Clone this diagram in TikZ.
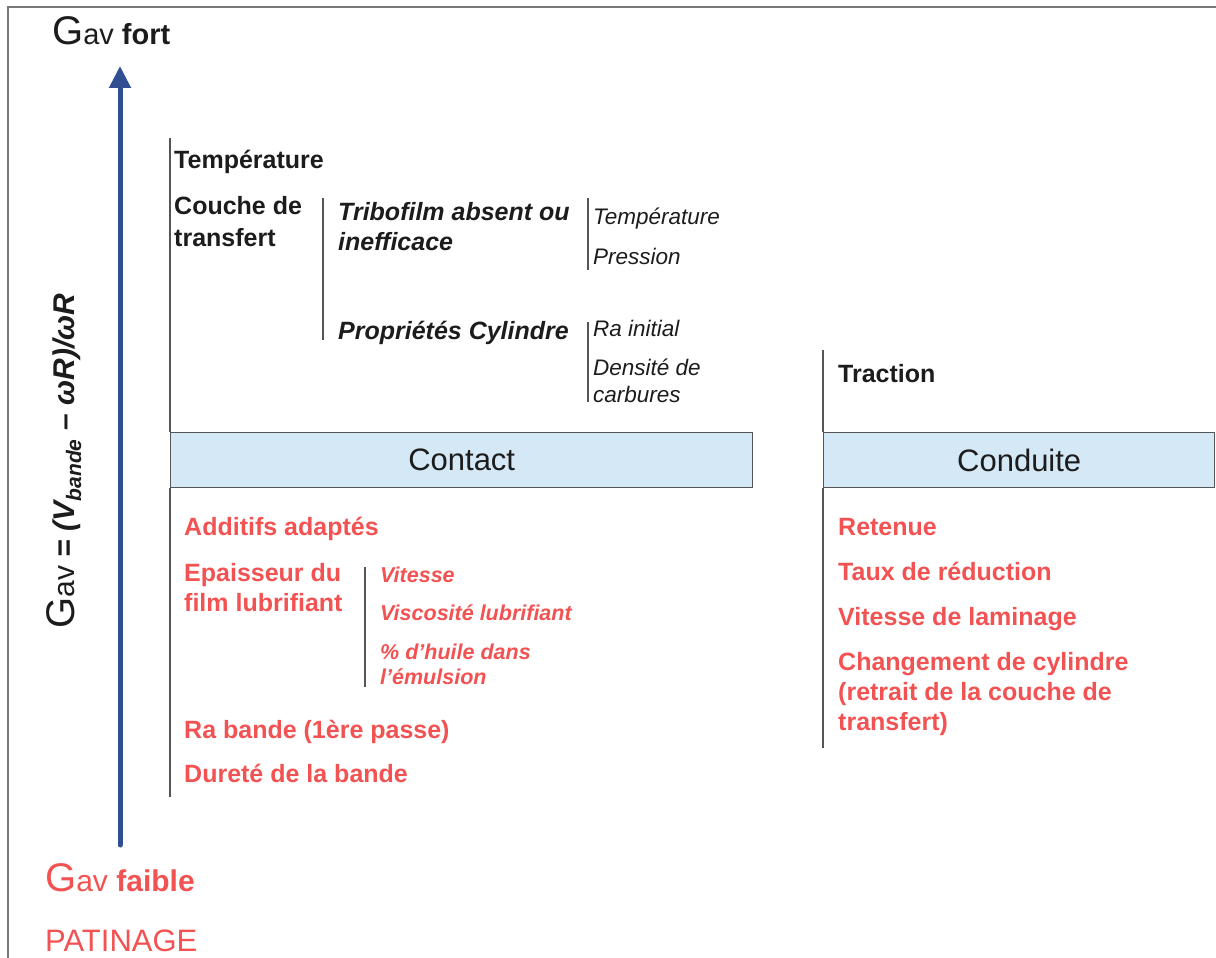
\documentclass[tikz,border=0pt]{standalone}
\usepackage{fontspec}
\setmainfont{Liberation Sans}
\usetikzlibrary{arrows.meta,positioning}
\definecolor{inkDark}{RGB}{28,28,28}
\definecolor{ruleGray}{RGB}{85,85,85}
\definecolor{frameGray}{RGB}{120,120,120}
\definecolor{remedyRed}{RGB}{242,82,82}
\definecolor{axisBlue}{RGB}{48,78,146}
\definecolor{bandBlue}{RGB}{212,232,245}
% lignes empilees, ligne de base = premiere ligne
\newcommand{\linesleft}[1]{\vtop{\halign{##\hfil\cr#1\crcr}}}

\begin{document}
\begin{tikzpicture}[
    x=1pt, y=-1pt,
    bar/.style={draw=ruleGray, line width=1.4pt},
    frame/.style={draw=frameGray, line width=1.5pt},
    axis/.style={-{Triangle[width=21pt,length=22pt]}, draw=axisBlue,
      line width=5pt, line cap=round},
    factor/.style={
      anchor=base west,
      inner sep=0pt,
      text=inkDark,
      font=\fontsize{25}{32}\selectfont\bfseries
    },
    cause/.style={factor, font=\fontsize{25}{30}\selectfont\bfseries\itshape},
    detail/.style={factor, font=\fontsize{22.5}{27}\selectfont\itshape},
    remedy/.style={factor, text=remedyRed, font=\fontsize{25}{30}\selectfont\bfseries},
    remedyDetail/.style={remedy, font=\fontsize{21.5}{25}\selectfont\bfseries\itshape},
    band/.style={
      draw=ruleGray,
      line width=1.4pt,
      fill=bandBlue,
      anchor=north west,
      minimum height=55pt,
      text=inkDark,
      font=\fontsize{31}{31}\selectfont
    }
  ]
    \useasboundingbox (0,0) rectangle (1216,958);
    \coordinate (frameTR) at (1216,7);
    \coordinate (frameTL) at (8,7);
    \coordinate (frameBL) at (8,958);
    \draw[frame] (frameTR) -- (frameTL) -- (frameBL);

    % axe Gav
    \coordinate (axisFoot) at (120,845);
    \coordinate (axisTip) at (120,66);
    \draw[axis] (axisFoot) -- (axisTip);
    \node[factor, font=\fontsize{29}{29}\selectfont] (gavFort) at (52,45)
      {{\fontsize{40}{40}\selectfont G}av \textbf{fort}};
    \node[factor, text=remedyRed, font=\fontsize{30}{30}\selectfont] (gavFaible) at (45,891)
      {{\fontsize{40}{40}\selectfont G}av \textbf{faible}};
    \node[factor, text=remedyRed, font=\fontsize{31}{31}\selectfont] (patinage) at (45,951)
      {PATINAGE};
    \node[rotate=90, text=inkDark, inner sep=0pt, font=\fontsize{30}{30}\selectfont]
      (gavFormula) at (64,461)
      {{\fontsize{40}{40}\selectfont G}av \textbf{\itshape = (V\textsubscript{bande} – ωR)/ωR}};

    % bandeaux
    \node[band, minimum width=582pt] (contact) at (170,432) {Contact};
    \node[band, minimum width=391pt] (conduite) at (823,432) {Conduite};

    % accolades verticales
    \coordinate (contactTop) at (170,138);
    \coordinate (contactBot) at (170,797);
    \coordinate (conduiteTop) at (823,350);
    \coordinate (conduiteBot) at (823,748);
    \draw[bar] (contactTop) -- (contact.north west);
    \draw[bar] (contact.south west) -- (contactBot);
    \draw[bar] (conduiteTop) -- (conduite.north west);
    \draw[bar] (conduite.south west) -- (conduiteBot);
    \draw[bar] (323,198) coordinate (coucheTop) -- (323,340) coordinate (coucheBot);
    \draw[bar] (588,198) coordinate (triboTop) -- (588,270) coordinate (triboBot);
    \draw[bar] (588,322) coordinate (cylTop) -- (588,402) coordinate (cylBot);
    \draw[bar] (365,567) coordinate (filmTop) -- (365,687) coordinate (filmBot);

    % facteurs de Gav fort
    \node[factor] (tempTop) at (174,168) {Température};
    \node[factor] (couche) at (174,214) {\linesleft{Couche de\cr transfert}};
    \node[cause] (tribo) at (338,220) {\linesleft{Tribofilm absent ou\cr inefficace}};
    \node[cause] (cylProps) at (338,339) {Propriétés Cylindre};
    \node[detail] (tempDetail) at (593,224) {Température};
    \node[detail] (pression) at (593,264) {Pression};
    \node[detail] (raInitial) at (593,336) {Ra initial};
    \node[detail] (carbures) at (593,375) {\linesleft{Densité de\cr carbures}};
    \node[factor] (traction) at (838,382) {Traction};

    % leviers vers Gav faible
    \node[remedy] (additifs) at (184,535) {Additifs adaptés};
    \node[remedy] (epaisseur) at (184,581) {\linesleft{Epaisseur du\cr film lubrifiant}};
    \node[remedyDetail] (vitesse) at (380,582) {Vitesse};
    \node[remedyDetail] (viscosite) at (380,620) {Viscosité lubrifiant};
    \node[remedyDetail] (huile) at (380,659) {\linesleft{\% d’huile dans\cr l’émulsion}};
    \node[remedy] (raBande) at (184,738) {Ra bande (1ère passe)};
    \node[remedy] (durete) at (184,782) {Dureté de la bande};
    \node[remedy] (retenue) at (838,535) {Retenue};
    \node[remedy] (taux) at (838,580) {Taux de réduction};
    \node[remedy] (vitLaminage) at (838,625) {Vitesse de laminage};
    \node[remedy] (changement) at (838,670)
      {\linesleft{Changement de cylindre\cr (retrait de la couche de\cr transfert)}};
  \end{tikzpicture}
\end{document}
